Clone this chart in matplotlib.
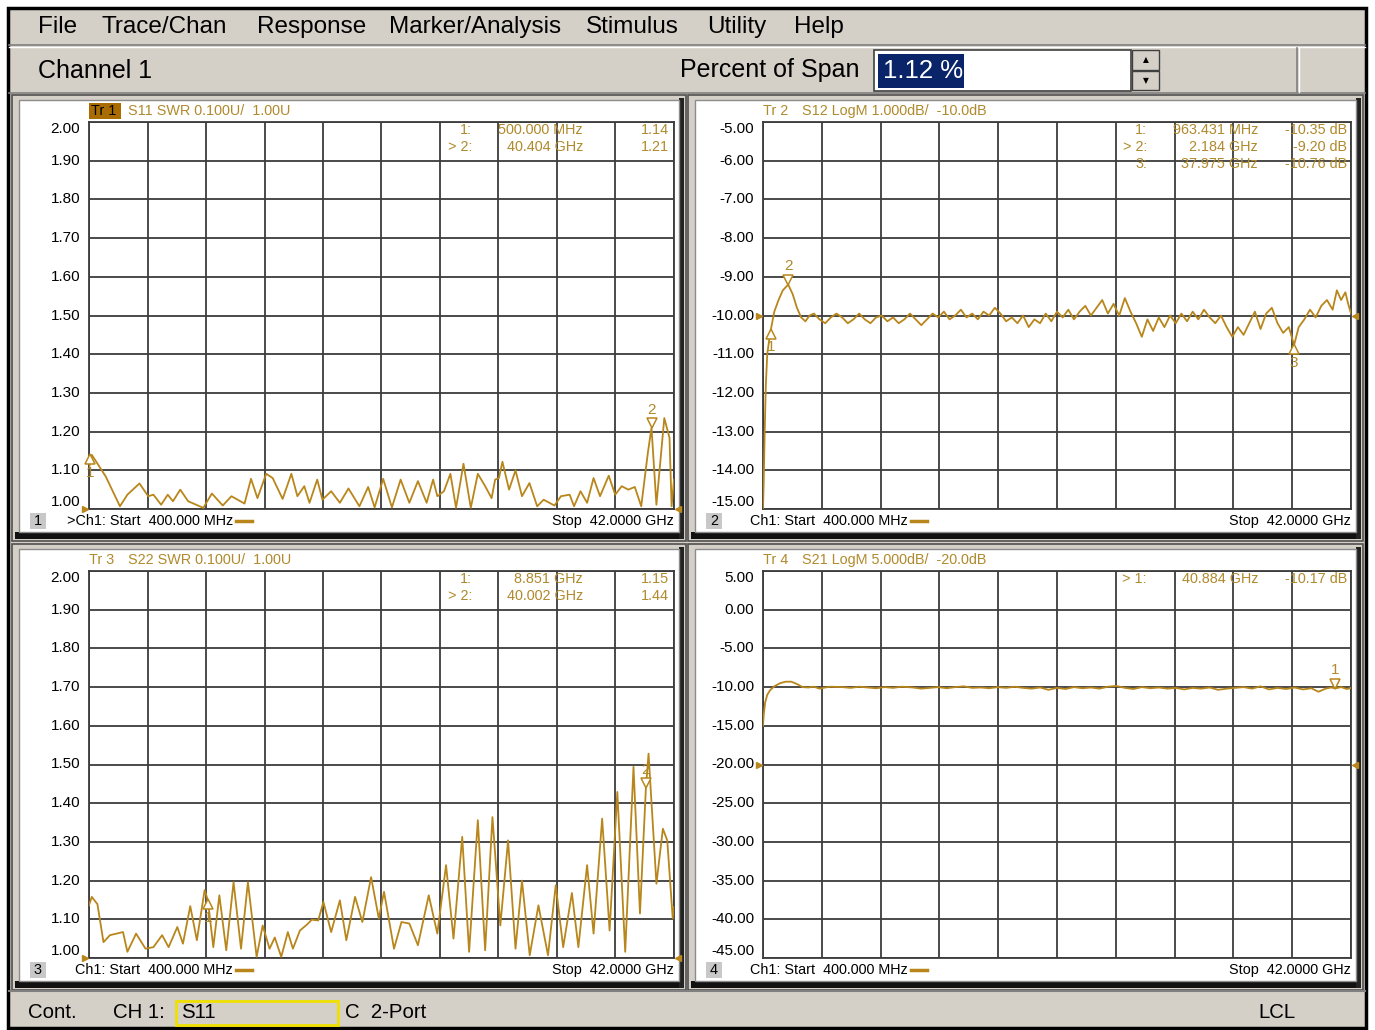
import matplotlib
matplotlib.use('Agg')
import matplotlib.pyplot as plt
from matplotlib.patches import Rectangle
from matplotlib.lines import Line2D
from matplotlib.transforms import ScaledTranslation, blended_transform_factory

# ........................ Trace data ........................
# Tr 1 : S11 SWR
s11_freq = [0.4, 0.6, 1.59, 2.6, 3.13, 3.99, 4.61, 4.98, 5.53, 6.0, 6.37, 6.89, 7.45, 8.53, 9.14,
            9.91, 10.53, 11.46, 11.92, 12.38, 13.0, 13.46, 14.17, 14.79, 15.22, 15.71, 16.08, 16.63,
            17.0, 17.62, 18.24, 18.85, 19.63, 20.25, 20.71, 21.32, 21.94, 22.56, 23.18, 23.79, 24.41,
            24.87, 25.17, 25.64, 26.1, 26.5, 27.03, 27.55, 28.05, 28.57, 29.03, 29.28, 29.55, 29.8,
            30.27, 30.73, 31.19, 31.72, 32.27, 32.73, 33.5, 33.96, 34.58, 34.89, 35.35, 35.82, 36.28,
            36.74, 37.36, 37.82, 38.28, 38.75, 39.21, 39.67, 40.14, 40.40, 40.75, 41.31, 41.68, 41.83, 42.0]
s11_swr = [1.106, 1.14, 1.084, 1.007, 1.037, 1.066, 1.033, 1.037, 1.011, 1.037, 1.02, 1.05, 1.02, 1.003, 1.04,
           1.009, 1.033, 1.014, 1.078, 1.028, 1.091, 1.08, 1.026, 1.091, 1.033, 1.059, 1.016, 1.076,
           1.024, 1.046, 1.016, 1.053, 1.007, 1.057, 1.004, 1.078, 1.004, 1.076, 1.016, 1.072, 1.016,
           1.076, 1.033, 1.046, 1.091, 1.003, 1.117, 1.003, 1.091, 1.059, 1.028, 1.076, 1.08, 1.122,
           1.05, 1.10, 1.033, 1.067, 1.007, 1.024, 1.009, 1.033, 1.037, 1.007, 1.046, 1.016, 1.08,
           1.033, 1.086, 1.037, 1.059, 1.05, 1.057, 1.007, 1.145, 1.21, 1.011, 1.235, 1.184, 1.007, 1.076]

# Tr 2 : S12 LogM
s12_freq = [0.4, 0.45, 0.52, 0.6, 0.7, 0.85, 0.963, 1.2, 1.5, 1.8, 2.184, 2.5, 2.8, 3.1, 3.4, 3.7, 4.0,
            4.4, 4.8, 5.2, 5.6, 6.0, 6.4, 6.8, 7.2, 7.6, 8.0, 8.4, 8.8, 9.2, 9.6, 10.0, 10.4, 10.8, 11.2,
            11.6, 12.0, 12.4, 12.8, 13.2, 13.6, 14.0, 14.4, 14.8, 15.2, 15.6, 16.0, 16.4, 16.8, 17.2,
            17.6, 18.0, 18.4, 18.8, 19.2, 19.6, 20.0, 20.4, 20.8, 21.2, 21.6, 22.0, 22.4, 22.8, 23.2,
            23.6, 24.0, 24.4, 24.8, 25.2, 25.6, 26.0, 26.4, 26.8, 27.2, 27.6, 28.0, 28.4, 28.8, 29.2,
            29.6, 30.0, 30.4, 30.8, 31.2, 31.6, 32.0, 32.4, 32.8, 33.2, 33.6, 34.0, 34.4, 34.8, 35.2,
            35.6, 36.0, 36.4, 36.8, 37.2, 37.6, 37.975, 38.3, 38.7, 39.1, 39.5, 39.9, 40.3, 40.7, 41.0,
            41.3, 41.6, 41.8, 42.0]
s12_db = [-15.0, -14.3, -13.0, -11.8, -11.0, -10.6, -10.35, -9.9, -9.6, -9.35, -9.2, -9.45, -9.8, -10.05,
          -10.15, -10.0, -9.95, -10.1, -10.2, -10.05, -9.95, -10.05, -10.2, -10.1, -9.95, -10.1, -10.2,
          -10.05, -10.0, -10.15, -10.05, -10.2, -10.1, -9.95, -10.1, -10.25, -10.1, -9.95, -10.05, -9.9,
          -10.1, -10.0, -9.85, -10.05, -9.95, -10.1, -9.9, -10.0, -9.8, -9.95, -10.15, -10.05, -10.2,
          -10.0, -10.3, -10.1, -10.2, -9.95, -10.15, -9.9, -10.05, -9.85, -10.1, -9.9, -9.75, -10.0,
          -9.8, -9.6, -9.95, -9.7, -10.0, -9.55, -9.9, -10.2, -10.55, -10.1, -10.4, -10.05, -10.3,
          -10.0, -10.2, -9.95, -10.15, -9.9, -10.1, -9.85, -10.05, -10.2, -10.0, -10.3, -10.55, -10.3,
          -10.5, -10.2, -9.9, -10.35, -9.95, -9.8, -10.2, -10.45, -10.3, -10.76, -10.3, -10.1, -9.85,
          -10.05, -9.75, -9.6, -9.85, -9.35, -9.6, -9.4, -9.7, -9.95]

# Tr 3 : S22 SWR
s22_freq = [0.4, 0.6, 1.0, 1.43, 1.89, 2.82, 3.13, 3.75, 4.42, 4.98, 5.6, 6.06, 6.68, 7.08, 7.6, 8.07,
            8.62, 8.851, 9.24, 9.67, 10.16, 10.68, 11.21, 11.7, 12.32, 12.75, 13.24, 13.61, 14.07, 14.54,
            14.9, 15.4, 15.92, 16.24, 16.7, 17.07, 17.62, 18.24, 18.7, 19.32, 19.84, 20.46, 21.01, 21.38,
            22.09, 22.62, 23.18, 23.79, 24.56, 25.17, 25.79, 26.32, 26.94, 27.43, 28.05, 28.57, 29.09,
            29.65, 30.2, 30.73, 31.19, 31.74, 32.36, 33.04, 33.59, 34.12, 34.74, 35.2, 35.82, 36.28,
            36.89, 37.42, 37.97, 38.53, 39.12, 39.58, 40.002, 40.19, 40.75, 41.21, 41.52, 41.91, 42.0]
s22_swr = [1.136, 1.158, 1.139, 1.041, 1.059, 1.067, 1.016, 1.063, 1.024, 1.028, 1.059, 1.028, 1.08,
           1.037, 1.134, 1.046, 1.175, 1.15, 1.028, 1.162, 1.02, 1.196, 1.024, 1.196, 1.003, 1.084,
           1.024, 1.053, 1.003, 1.067, 1.024, 1.071, 1.087, 1.099, 1.097, 1.145, 1.067, 1.149, 1.046,
           1.158, 1.093, 1.209, 1.102, 1.171, 1.024, 1.093, 1.089, 1.033, 1.162, 1.063, 1.24, 1.05,
           1.313, 1.016, 1.356, 1.02, 1.364, 1.084, 1.304, 1.024, 1.20, 1.007, 1.136, 1.007, 1.188,
           1.028, 1.168, 1.028, 1.24, 1.063, 1.36, 1.071, 1.429, 1.016, 1.494, 1.115, 1.44, 1.528,
           1.192, 1.334, 1.304, 1.102, 1.132]

# Tr 4 : S21 LogM
s21_freq = [0.4, 0.45, 0.55, 0.7, 0.9, 1.2, 1.6, 2.0, 2.4, 2.8, 3.2, 3.6, 4.0, 4.4, 4.8, 5.2, 6.0, 6.6,
            7.2, 7.8, 8.4, 9.0, 9.6, 10.2, 11.0, 11.6, 12.2, 12.8, 13.4, 14.0, 14.6, 15.2, 15.8, 16.4,
            17.0, 17.6, 18.2, 18.8, 19.4, 20.0, 20.6, 21.2, 21.8, 22.4, 23.0, 23.6, 24.2, 24.8, 25.4,
            26.0, 26.6, 27.2, 27.8, 28.4, 29.0, 29.6, 30.2, 30.8, 31.4, 32.0, 32.6, 33.2, 33.8, 34.4,
            35.0, 35.6, 36.2, 36.8, 37.4, 38.0, 38.6, 39.2, 39.7, 40.2, 40.6, 40.884, 41.3, 41.7, 42.0]
s21_db = [-15.0, -13.6, -12.0, -11.0, -10.4, -9.9, -9.5, -9.3, -9.3, -9.6, -10.0, -10.05, -9.95, -10.2,
          -10.05, -9.95, -10.0, -10.1, -9.95, -10.05, -10.15, -10.0, -10.1, -9.95, -10.05, -10.2, -10.1,
          -10.0, -10.15, -10.0, -9.9, -10.1, -10.05, -10.15, -10.0, -10.1, -9.95, -10.1, -10.2, -10.05,
          -10.35, -10.1, -10.25, -10.0, -10.15, -10.05, -10.2, -9.95, -9.85, -10.1, -10.25, -10.0,
          -10.15, -10.05, -10.2, -10.1, -10.3, -10.1, -10.2, -10.05, -10.35, -10.2, -10.1, -10.0,
          -10.2, -9.9, -10.3, -10.1, -10.25, -10.05, -10.3, -10.15, -10.6, -10.2, -10.05, -10.17,
          -10.0, -10.25, -10.1]

# markers: freq (GHz), value, active marker number
s11_mk_f, s11_mk_v, s11_act = [0.5, 40.404], [1.14, 1.21], 2
s12_mk_f, s12_mk_v, s12_act = [0.963431, 2.184, 37.975], [-10.35, -9.20, -10.76], 2
s22_mk_f, s22_mk_v, s22_act = [8.851, 40.002], [1.15, 1.44], 2
s21_mk_f, s21_mk_v, s21_act = [40.884], [-10.17], 1

swr_labels = ['2.00', '1.90', '1.80', '1.70', '1.60', '1.50', '1.40', '1.30', '1.20', '1.10', '1.00']
s12_labels = ['-5.00', '-6.00', '-7.00', '-8.00', '-9.00', '-10.00', '-11.00', '-12.00', '-13.00',
              '-14.00', '-15.00']
s21_labels = ['5.00', '0.00', '-5.00', '-10.00', '-15.00', '-20.00', '-25.00', '-30.00', '-35.00',
              '-40.00', '-45.00']

f_start, f_stop = 0.4, 42.0

# ........................ Styling ........................
FONT = ['Liberation Sans', 'DejaVu Sans']
GOLD = '#b8861b'
GOLDTXT = '#b08a2c'
UIGRAY = '#d4d0c8'
GRID = '#3c3c3c'
PT = 10.4      # panel text size

W, H = 1375, 1030
fig = plt.figure(figsize=(W / 100, H / 100), dpi=100)
fig.patch.set_facecolor('white')


def box(x0, y0, x1, y1, fc, ec='none', lw=0.0, z=-10):
    fig.add_artist(Rectangle((x0 / W, 1 - y1 / H), (x1 - x0) / W, (y1 - y0) / H,
                             transform=fig.transFigure, facecolor=fc, edgecolor=ec,
                             linewidth=lw, zorder=z))


def line(x0, y0, x1, y1, color, lw=1.0, z=-5):
    fig.add_artist(Line2D([x0 / W, x1 / W], [1 - y0 / H, 1 - y1 / H], transform=fig.transFigure,
                          color=color, linewidth=lw, zorder=z))


def label(x, y, s, size=PT, color='black', ha='left', va='center', fam=None, **kw):
    fig.text(x / W, 1 - y / H, s, fontsize=size, color=color, ha=ha, va=va,
             family=fam if fam else FONT, **kw)


# ........................ Window chrome ........................
box(8, 8, 1366, 1028, UIGRAY, ec='black', lw=2.5, z=-20)
line(9, 45, 1365, 45, '#808080', 1.2)
line(9, 47, 1365, 47, 'white', 1.0)
line(9, 93, 1365, 93, '#808080', 1.2)
line(1297, 48, 1297, 92, '#808080', 1.2)
line(1299, 48, 1299, 92, 'white', 1.0)

menu = [(38, 'File'), (101, 'Trace/Chan'), (257, 'Response'), (389, 'Marker/Analysis'),
        (586, 'Stimulus'), (707, 'Utility'), (794, 'Help')]
for mx, mt in menu:
    label(mx, 27, mt, size=17.5)
label(38, 71, 'Channel 1', size=18)
label(860, 70, 'Percent of Span', size=18, ha='right')
box(874, 50, 1131, 91, 'white', ec='#404040', lw=1.2, z=-8)
box(878, 54, 964, 88, '#0a246a', z=-7)
label(883, 71, '1.12 %', size=18.5, color='white')
box(1132, 50, 1159, 70, UIGRAY, ec='#404040', lw=1.0, z=-8)
box(1132, 71, 1159, 90, UIGRAY, ec='#404040', lw=1.0, z=-8)
label(1145.5, 60, '\u25b2', size=5.5, fam=['DejaVu Sans'], ha='center')
label(1145.5, 81, '\u25bc', size=5.5, fam=['DejaVu Sans'], ha='center')

# status bar
line(9, 991, 1365, 991, '#808080', 1.5)
label(28, 1013, 'Cont.', size=14.7)
label(113, 1013, 'CH 1:', size=14.7)
box(176, 1001, 338, 1025, UIGRAY, ec='#f0e000', lw=2.0, z=-8)
label(181, 1013, 'S11', size=14.7)
label(345, 1013, 'C  2-Port', size=14.7)
label(1258, 1013, 'LCL', size=14.7)

# ........................ Measurement panels ........................
panels = [
    dict(outer=(12, 95, 686, 541), grid=(89, 122, 674, 509), n=1,
         title=('Tr 1', 'S11 SWR 0.100U/  1.00U'), start='>Ch1: Start  400.000 MHz', sx=67,
         freq=s11_freq, vals=s11_swr, ylim=(1.0, 2.0), ylabels=swr_labels, ref=1.0,
         mk=(s11_mk_f, s11_mk_v, s11_act), unit='', col=(472, 583, 669)),
    dict(outer=(688, 95, 1363, 541), grid=(763, 122, 1351, 509), n=2,
         title=('Tr 2', 'S12 LogM 1.000dB/  -10.0dB'), start='Ch1: Start  400.000 MHz', sx=750,
         freq=s12_freq, vals=s12_db, ylim=(-15.0, -5.0), ylabels=s12_labels, ref=-10.0,
         mk=(s12_mk_f, s12_mk_v, s12_act), unit=' dB', col=(1147, 1258, 1347)),
    dict(outer=(12, 544, 686, 990), grid=(89, 571, 674, 958), n=3,
         title=('Tr 3', 'S22 SWR 0.100U/  1.00U'), start='Ch1: Start  400.000 MHz', sx=75,
         freq=s22_freq, vals=s22_swr, ylim=(1.0, 2.0), ylabels=swr_labels, ref=1.0,
         mk=(s22_mk_f, s22_mk_v, s22_act), unit='', col=(472, 583, 669)),
    dict(outer=(688, 544, 1363, 990), grid=(763, 571, 1351, 958), n=4,
         title=('Tr 4', 'S21 LogM 5.000dB/  -20.0dB'), start='Ch1: Start  400.000 MHz', sx=750,
         freq=s21_freq, vals=s21_db, ylim=(-45.0, 5.0), ylabels=s21_labels, ref=-20.0,
         mk=(s21_mk_f, s21_mk_v, s21_act), unit=' dB', col=(1147, 1258, 1347)),
]


def fmt_freq(f):
    if f < 1.0:
        return f'{f * 1000:.3f} MHz'
    return f'{f:.3f} GHz'


renderer = fig.canvas.get_renderer()

for p in panels:
    x0, y0, x1, y1 = p['outer']
    gx0, gy0, gx1, gy1 = p['grid']
    box(x0, y0, x1, y1, UIGRAY, ec='#505050', lw=1.2, z=-9)
    box(x0 + 3, y1 - 9, x1 - 3, y1 - 2, '#111111', z=-8)
    box(x1 - 7, y0 + 3, x1 - 2, y1 - 2, '#222222', z=-8)
    box(x0 + 7, y0 + 5, x1 - 7, y1 - 9, 'white', ec='#8c8c8c', lw=1.0, z=-7)

    ax = fig.add_axes([gx0 / W, 1 - gy1 / H, (gx1 - gx0) / W, (gy1 - gy0) / H])
    ax.set_facecolor('white')
    ax.set_xlim(f_start, f_stop)
    ax.set_ylim(*p['ylim'])
    step_x = (f_stop - f_start) / 10
    step_y = (p['ylim'][1] - p['ylim'][0]) / 10
    ax.set_xticks([f_start + i * step_x for i in range(11)])
    ax.set_yticks([p['ylim'][0] + i * step_y for i in range(11)])
    ax.tick_params(length=0, labelbottom=False, labelleft=False)
    ax.grid(True, color=GRID, linewidth=1.3)
    for sp in ax.spines.values():
        sp.set_color(GRID)
        sp.set_linewidth(1.3)

    ax.plot(p['freq'], p['vals'], color=GOLD, linewidth=1.3, zorder=3)

    # y scale labels
    bt = blended_transform_factory(ax.transAxes, ax.transData) + \
        ScaledTranslation(-9 / 100, 0, fig.dpi_scale_trans)
    n_lab = len(p['ylabels'])
    for i, lab in enumerate(p['ylabels']):
        yv = p['ylim'][1] - i * step_y
        va = 'top' if i == 0 else ('bottom' if i == n_lab - 1 else 'center')
        ax.text(0, yv, lab, transform=bt, ha='right', va=va, fontsize=11, family=FONT)

    # reference level arrows
    for xr, mk, dx in [(f_start, '>', -4), (f_stop, '<', 4)]:
        ax.plot([xr], [p['ref']], marker=mk, ms=5, color=GOLD, clip_on=False, zorder=4,
                transform=ax.transData + ScaledTranslation(dx / 100, 0, fig.dpi_scale_trans))

    # markers on trace
    mf, mv, act = p['mk']
    for k, (f, v) in enumerate(zip(mf, mv)):
        num = k + 1
        if num == act:
            ax.plot([f], [v], marker='v', ms=7, mfc='white', mec=GOLD, mew=1.1, zorder=5, clip_on=False,
                    transform=ax.transData + ScaledTranslation(0, 4.5 / 100, fig.dpi_scale_trans))
            ax.annotate(str(num), (f, v), xytext=(0, 8), textcoords='offset points', ha='center',
                        va='bottom', color=GOLDTXT, fontsize=11, family=FONT)
        else:
            ax.plot([f], [v], marker='^', ms=7, mfc='white', mec=GOLD, mew=1.1, zorder=5, clip_on=False,
                    transform=ax.transData + ScaledTranslation(0, -4.5 / 100, fig.dpi_scale_trans))
            ax.annotate(str(num), (f, v), xytext=(0, -8), textcoords='offset points', ha='center',
                        va='top', color=GOLDTXT, fontsize=11, family=FONT)

    # marker table
    c0, c1, c2 = p['col']
    for k, (f, v) in enumerate(zip(mf, mv)):
        ry = gy0 + 8 + k * 17
        tag = f'> {k + 1}:' if k + 1 == act else f'{k + 1}:'
        label(c0, ry, tag, color=GOLDTXT, ha='right')
        label(c1, ry, fmt_freq(f), color=GOLDTXT, ha='right')
        label(c2, ry, f'{v:.2f}{p["unit"]}', color=GOLDTXT, ha='right')

    # trace title
    tr, desc = p['title']
    ty = gy0 - 11
    if p['n'] == 1:
        box(gx0, ty - 8, gx0 + 32, ty + 8, '#a86c00', z=-6)
        label(gx0 + 2, ty, tr, color='black')
    else:
        label(gx0, ty, tr, color=GOLDTXT)
    label(gx0 + 39, ty, desc, color=GOLDTXT)

    # channel footer
    fy = gy1 + 12
    box(x0 + 18, fy - 8, x0 + 34, fy + 8, '#c8c8c8', z=-6)
    label(x0 + 26, fy, str(p['n']), ha='center')
    t = fig.text(p['sx'] / W, 1 - fy / H, p['start'], fontsize=PT, family=FONT, va='center')
    ext = t.get_window_extent(renderer=renderer)
    sl = ext.x1 + 3
    line(sl, fy, sl + 16, fy, GOLD, 2.5, z=2)
    label(gx1, fy, 'Stop  42.0000 GHz', ha='right')

fig.savefig('out.png', dpi=100, facecolor='white')
